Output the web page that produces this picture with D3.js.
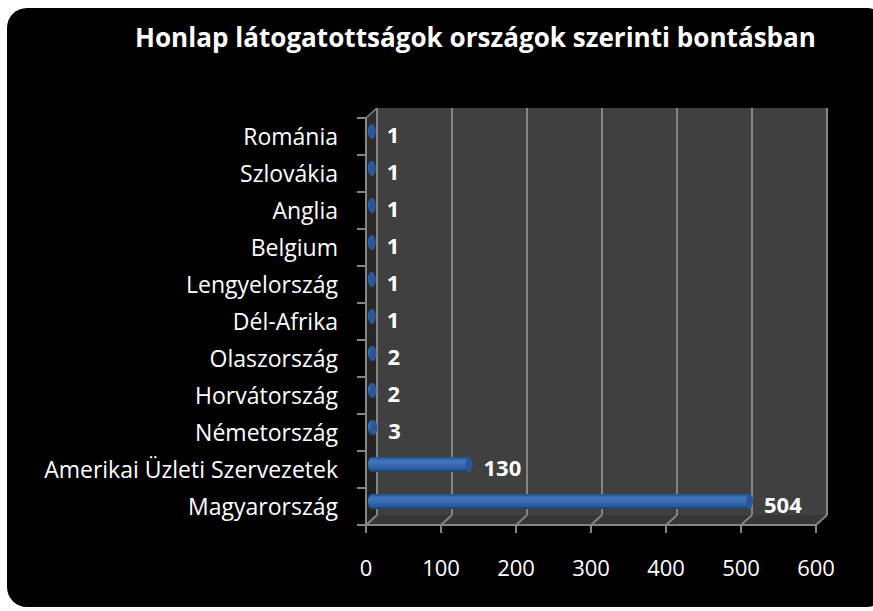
<!DOCTYPE html>
<html><head><meta charset="utf-8">
<script src="https://cdn.jsdelivr.net/npm/d3@7"></script>
<style>html,body{margin:0;padding:0;background:#fff;}svg{display:block;}</style>
</head><body>
<svg id="c" width="873" height="611"></svg>
<script>
const title = "Honlap látogatottságok országok szerinti bontásban";
const categories = ["Románia","Szlovákia","Anglia","Belgium","Lengyelország","Dél-Afrika","Olaszország","Horvátország","Németország","Amerikai Üzleti Szervezetek","Magyarország"];
const values = [1,1,1,1,1,1,2,2,3,130,504];
const xTicks = [0,100,200,300,400,500,600];

(function(){
const svg = d3.select("#c");
const defs = svg.append("defs");
const g1 = defs.append("linearGradient").attr("id","bar").attr("x1",0).attr("y1",0).attr("x2",0).attr("y2",1);
[[0,"#224f8c"],[0.25,"#3f77bf"],[0.45,"#3a70b7"],[0.8,"#2b5b9c"],[1,"#1a3d6e"]].forEach(s=>g1.append("stop").attr("offset",s[0]).attr("stop-color",s[1]));
const g2 = defs.append("linearGradient").attr("id","side").attr("x1",0).attr("y1",0).attr("x2",0).attr("y2",1);
[[0,"#2c2c2c"],[1,"#222"]].forEach(s=>g2.append("stop").attr("offset",s[0]).attr("stop-color",s[1]));

svg.append("rect").attr("x",7).attr("y",8).attr("width",880).attr("height",599).attr("rx",20).attr("fill","#000");

const x = d3.scaleLinear().domain([0,600]).range([366,816]);
const y = d3.scaleBand().domain(categories).range([118,525]).padding(0);
const dx = 11, dy = -10;
const pTop = 118, pBot = 525;

svg.append("rect").attr("x",x(0)+dx).attr("y",pTop+dy).attr("width",x(600)-x(0)).attr("height",pBot-pTop).attr("fill","#404040");
svg.append("path").attr("d",`M${x(0)},${pTop}L${x(0)+dx},${pTop+dy}L${x(0)+dx},${pBot+dy}L${x(0)},${pBot}Z`).attr("fill","url(#side)");
svg.append("path").attr("d",`M${x(0)},${pBot}L${x(0)+dx},${pBot+dy}L${x(600)+dx},${pBot+dy}L${x(600)},${pBot}Z`).attr("fill","#363636");

const gridC = "#858585";
svg.append("g").selectAll("line").data(xTicks).join("line")
  .attr("x1",d=>x(d)+dx).attr("x2",d=>x(d)+dx).attr("y1",pTop+dy).attr("y2",pBot+dy)
  .attr("stroke",gridC).attr("stroke-width",2);
svg.append("g").selectAll("line").data(xTicks).join("line")
  .attr("x1",d=>x(d)).attr("x2",d=>x(d)+dx).attr("y1",pBot).attr("y2",pBot+dy)
  .attr("stroke",gridC).attr("stroke-width",2);
svg.append("line").attr("x1",x(0)).attr("x2",x(600)).attr("y1",pBot).attr("y2",pBot).attr("stroke",gridC).attr("stroke-width",2);
svg.append("line").attr("x1",x(0)).attr("x2",x(0)).attr("y1",pTop).attr("y2",pBot).attr("stroke",gridC).attr("stroke-width",2);
svg.append("line").attr("x1",x(0)).attr("x2",x(0)+dx).attr("y1",pTop).attr("y2",pTop+dy).attr("stroke",gridC).attr("stroke-width",1.5);
svg.append("g").selectAll("line").data(xTicks).join("line")
  .attr("x1",d=>x(d)).attr("x2",d=>x(d)).attr("y1",pBot).attr("y2",pBot+8)
  .attr("stroke",gridC).attr("stroke-width",2);
const yb = y.domain().map(c=>y(c)).concat([pBot]);
svg.append("g").selectAll("line").data(yb).join("line")
  .attr("x1",x(0)-9).attr("x2",x(0)).attr("y1",d=>d).attr("y2",d=>d)
  .attr("stroke",gridC).attr("stroke-width",2);

svg.append("g").selectAll("text").data(xTicks).join("text")
  .attr("x",d=>x(d)).attr("y",576).attr("text-anchor","middle")
  .attr("font-family","Open Sans").attr("font-size",22).attr("fill","#fff").text(d=>d);
svg.append("g").selectAll("text").data(categories).join("text")
  .attr("x",338).attr("y",d=>y(d)+y.bandwidth()/2).attr("dy","0.35em").attr("text-anchor","end")
  .attr("font-family","Open Sans").attr("font-size",23).attr("fill","#fff").text(d=>d);

const ry = 7.5, rx = 3.5;
const bars = svg.append("g").selectAll("g").data(categories.map((c,i)=>({c,v:values[i]}))).join("g");
bars.each(function(d){
  const gg = d3.select(this);
  const cy = y(d.c)+y.bandwidth()/2 + dy/2;
  const x0 = x(0)+dx/2, x1 = x(d.v)+dx/2;
  gg.append("path")
    .attr("d",`M${x0},${cy-ry}L${x1},${cy-ry}L${x1},${cy+ry}L${x0},${cy+ry}A${rx},${ry} 0 0 1 ${x0},${cy-ry}Z`)
    .attr("fill","url(#bar)");
  gg.append("ellipse").attr("cx",x1).attr("cy",cy).attr("rx",rx).attr("ry",ry).attr("fill","#2a5797");
  gg.append("text").attr("x",x1+rx+11).attr("y",cy+4).attr("dy","0.35em")
    .attr("font-family","Open Sans").attr("font-weight","bold").attr("font-size",22).attr("fill","#fff").text(d.v);
});

svg.append("text").attr("x",135).attr("y",47).attr("textLength",681).attr("lengthAdjust","spacingAndGlyphs")
  .attr("font-family","Open Sans").attr("font-weight","bold").attr("font-size",26).attr("fill","#fff").text(title);
})();
</script>
</body></html>
